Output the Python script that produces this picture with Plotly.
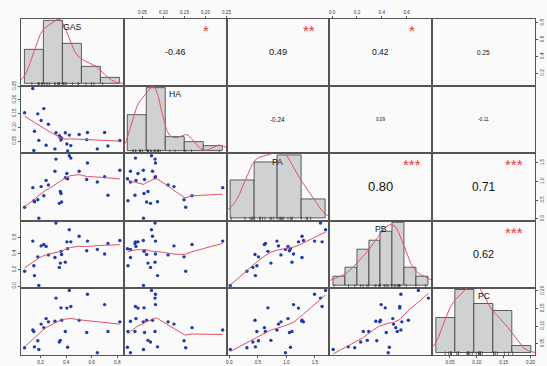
import numpy as np
import plotly.graph_objects as go

VAR_NAMES = ["GAS", "HA", "PA", "PB", "PC"]

GAS = [0.076, 0.140, 0.148, 0.153, 0.179, 0.187, 0.205, 0.226, 0.244, 0.262,
       0.313, 0.321, 0.347, 0.355, 0.360, 0.365, 0.394, 0.406, 0.412, 0.425,
       0.437, 0.502, 0.561, 0.567, 0.644, 0.701, 0.727, 0.820]
HA = [0.153, 0.241, 0.0156, 0.0859, 0.149, 0.0525, 0.125, 0.168, 0.0346, 0.111,
      0.0215, 0.080, 0.0692, 0.0632, 0.0537, 0.060, 0.080, 0.0394, 0.0144, 0.0716,
      0.0334, 0.074, 0.055, 0.081, 0.0215, 0.081, 0.0322, 0.052]
PA = [0.308, 0.834, 0.483, 0.457, 0.510, 0.018, 0.861, 0.615, 1.027, 0.904,
      1.273, 1.597, 0.413, 0.729, 0.676, 0.450, 1.097, 1.211, 1.071, 1.685,
      1.624, 1.273, 1.053, 1.492, 0.983, 1.124, 0.632, 1.299]
PB = [0.182, 0.554, 0.251, 0.129, 0.360, 0.008, 0.495, 0.513, 0.489, 0.384,
      0.352, 0.776, 0.230, 0.283, 0.428, 0.390, 0.295, 0.545, 0.461, 0.695,
      0.545, 0.614, 0.436, 0.554, 0.452, 0.395, 0.525, 0.562]
PC = [0.0379, 0.0888, 0.0842, 0.0406, 0.0582, 0.0332, 0.1055, 0.0953, 0.1212, 0.1119,
      0.1138, 0.1796, 0.0545, 0.0592, 0.1518, 0.1166, 0.0842, 0.151, 0.0397, 0.2015,
      0.1555, 0.1166, 0.0814, 0.1906, 0.024, 0.161, 0.0842, 0.1119]

# correlation panels (upper triangle), values and significance stars as printed
COR_PAIRS = [(0, 1), (0, 2), (0, 3), (0, 4), (1, 2), (1, 3), (1, 4), (2, 3), (2, 4), (3, 4)]
COR_TEXT = ["-0.46", "0.49", "0.42", "0.25", "-0.24", "0.09", "-0.11", "0.80", "0.71", "0.62"]
COR_STARS = ["*", "**", "*", "", "", "", "", "***", "***", "***"]

# histogram breaks for the diagonal
HIST_START = [0.0, 0.0, 0.0, 0.0, 0.0]
HIST_END = [1.0, 0.25, 2.0, 0.8, 0.25]
HIST_SIZE = [0.2, 0.05, 0.5, 0.1, 0.05]

# outer axis ticks
TICK_VALS = [[0.2, 0.4, 0.6, 0.8],
             [0.05, 0.10, 0.15, 0.20, 0.25],
             [0.0, 0.5, 1.0, 1.5],
             [0.0, 0.2, 0.4, 0.6],
             [0.05, 0.10, 0.15, 0.20]]
TICK_TEXT = [["0.2", "0.4", "0.6", "0.8"],
             ["0.05", "0.10", "0.15", "0.20", "0.25"],
             ["0.0", "0.5", "1.0", "1.5"],
             ["0.0", "0.2", "0.4", "0.6"],
             ["0.05", "0.10", "0.15", "0.20"]]

data = [np.array(v, float) for v in (GAS, HA, PA, PB, PC)]
NV = 5
W, H = 547, 366
L, R, T, B = 21, 540, 13, 356
cw = (R - L) / NV
rh = (B - T) / NV

FRAME = "#555555"
BG = "#fafafa"
PT = "#1f3ca8"
SMOOTH = "#DF536B"
STAR = "#E8363C"
FONT = "Liberation Sans, Arial, sans-serif"


def xdom(j):
    return [(L + j * cw) / W, (L + (j + 1) * cw) / W]


def ydom(i):
    return [1 - (T + (i + 1) * rh) / H, 1 - (T + i * rh) / H]


def pad_range(v):
    lo, hi = float(v.min()), float(v.max())
    d = hi - lo
    return [lo - 0.04 * d, hi + 0.04 * d]


def sfx(k):
    return "" if k == 1 else str(k)


def lowess(x, y, f=2 / 3, iters=3):
    o = np.argsort(x, kind="mergesort")
    x = x[o]
    y = y[o]
    n = len(x)
    ns = max(min(int(round(f * n)), n), 2)
    rob = np.ones(n)
    yest = np.zeros(n)
    for it in range(iters + 1):
        for i in range(n):
            d = np.abs(x - x[i])
            h = np.sort(d)[ns - 1]
            h = max(h, 1e-12)
            u = d / h
            w = np.where(u <= 0.999, (1 - np.clip(u, 0, 1) ** 3) ** 3, 0.0)
            w = np.where(u <= 0.001, 1.0, w) * rob
            sw = w.sum()
            xm = np.sum(w * x) / sw
            ym = np.sum(w * y) / sw
            var = np.sum(w * (x - xm) ** 2)
            if var > 1e-14 * (x.max() - x.min() + 1e-12) ** 2:
                b = np.sum(w * (x - xm) * (y - ym)) / var
            else:
                b = 0.0
            yest[i] = ym + b * (x[i] - xm)
        if it == iters:
            break
        res = y - yest
        s = np.median(np.abs(res))
        if s <= 0:
            break
        u = np.clip(res / (6 * s), -1, 1)
        rob = (1 - u ** 2) ** 2
    return x, yest


def kde(v):
    n = len(v)
    sd = v.std(ddof=1)
    q75, q25 = np.percentile(v, [75, 25])
    bw = 0.9 * min(sd, (q75 - q25) / 1.34) * n ** -0.2
    xs = np.linspace(v.min() - 3 * bw, v.max() + 3 * bw, 512)
    ys = np.exp(-0.5 * ((xs[:, None] - v[None, :]) / bw) ** 2).sum(1) / (n * bw * np.sqrt(2 * np.pi))
    return xs, ys


rngs = [pad_range(v) for v in data]
fig = go.Figure()
layout = {}
annotations = []

tickstyle = dict(ticks="outside", ticklen=2, tickwidth=0.6, tickcolor=FRAME,
                 showticklabels=True, tickfont=dict(size=4.6, color="#333333", family=FONT))

for i in range(NV):
    for j in range(NV):
        k = i * NV + j + 1
        xa = dict(domain=xdom(j), anchor="y" + sfx(k), showgrid=False, zeroline=False,
                  showline=True, mirror=True, linecolor=FRAME, linewidth=1,
                  ticks="", showticklabels=False, fixedrange=True)
        ya = dict(domain=ydom(i), anchor="x" + sfx(k), showgrid=False, zeroline=False,
                  showline=True, mirror=True, linecolor=FRAME, linewidth=1,
                  ticks="", showticklabels=False, fixedrange=True)
        if i == j:
            v = data[i]
            s0, s1, sz = HIST_START[i], HIST_END[i], HIST_SIZE[i]
            edges = np.arange(s0, s1 + sz / 2, sz)
            counts, _ = np.histogram(v, bins=edges)
            dens = counts / (len(v) * sz)
            M = dens.max()
            xa["range"] = [s0 - 0.04 * (s1 - s0), s1 + 0.04 * (s1 - s0)]
            ya["range"] = [-0.04 * M, 1.04 * M]
            fig.add_trace(go.Histogram(
                x=v, xbins=dict(start=s0, end=s1, size=sz), histnorm="probability density",
                marker=dict(color="#d0d1d3", line=dict(color="#3a3a3a", width=0.8)),
                xaxis="x" + sfx(k), yaxis="y" + sfx(k), hoverinfo="skip", showlegend=False))
            kx, ky = kde(v)
            fig.add_trace(go.Scatter(x=kx, y=ky, mode="lines", line=dict(color=SMOOTH, width=1),
                                     xaxis="x" + sfx(k), yaxis="y" + sfx(k),
                                     hoverinfo="skip", showlegend=False))
            ppu = rh / (1.08 * M)
            rug_y = np.full(len(v), -0.04 * M + 1.6 / ppu)
            fig.add_trace(go.Scatter(x=v, y=rug_y, mode="markers",
                                     marker=dict(symbol="line-ns-open", size=3.2, color="#333333",
                                                 line=dict(color="#333333", width=0.7)),
                                     xaxis="x" + sfx(k), yaxis="y" + sfx(k),
                                     hoverinfo="skip", showlegend=False, cliponaxis=False))
            annotations.append(dict(text=VAR_NAMES[i], x=0.5, y=0.833, yshift=3,
                                    xanchor="center", yanchor="middle",
                                    xref="x" + sfx(k) + " domain", yref="y" + sfx(k) + " domain",
                                    showarrow=False, font=dict(size=8.6, color="#111111", family=FONT)))
        else:
            xa["range"] = rngs[j]
            ya["range"] = rngs[i]
            if i > j:
                fig.add_trace(go.Scatter(x=data[j], y=data[i], mode="markers",
                                         marker=dict(color=PT, size=3.4),
                                         xaxis="x" + sfx(k), yaxis="y" + sfx(k),
                                         hoverinfo="skip", showlegend=False))
                lx, ly = lowess(data[j], data[i])
                fig.add_trace(go.Scatter(x=lx, y=ly, mode="lines",
                                         line=dict(color=SMOOTH, width=1),
                                         xaxis="x" + sfx(k), yaxis="y" + sfx(k),
                                         hoverinfo="skip", showlegend=False))
            else:
                # invisible carrier so the correlation panel exists
                fig.add_trace(go.Scatter(x=data[j], y=data[i], mode="markers",
                                         marker=dict(opacity=0, color=BG),
                                         xaxis="x" + sfx(k), yaxis="y" + sfx(k),
                                         hoverinfo="skip", showlegend=False))
            # outer tick axes
            if i == NV - 1 and j % 2 == 0:
                xa.update(tickstyle, side="bottom", tickvals=TICK_VALS[j], ticktext=TICK_TEXT[j], tickangle=0)
            if i == 0 and j % 2 == 1:
                xa.update(tickstyle, side="top", tickvals=TICK_VALS[j], ticktext=TICK_TEXT[j], tickangle=0)
            if j == 0 and i % 2 == 1:
                ya.update(tickstyle, side="left", tickvals=TICK_VALS[i], ticktext=TICK_TEXT[i], tickangle=-90)
            if j == NV - 1 and i % 2 == 0:
                ya.update(tickstyle, side="right", tickvals=TICK_VALS[i], ticktext=TICK_TEXT[i], tickangle=-90)
        layout["xaxis" + sfx(k)] = xa
        layout["yaxis" + sfx(k)] = ya

# overlay axes on the last diagonal panel for the outer PC scale
kd = NV * NV
ko = kd + 1
layout["xaxis" + str(ko)] = dict(overlaying="x" + str(kd), anchor="y" + str(kd), range=rngs[4],
                                 showgrid=False, zeroline=False, showline=False, fixedrange=True,
                                 side="bottom", tickvals=TICK_VALS[4], ticktext=TICK_TEXT[4],
                                 tickangle=0, **tickstyle)
layout["yaxis" + str(ko)] = dict(overlaying="y" + str(kd), anchor="x" + str(kd), range=rngs[4],
                                 showgrid=False, zeroline=False, showline=False, fixedrange=True,
                                 side="right", tickvals=TICK_VALS[4], ticktext=TICK_TEXT[4],
                                 tickangle=-90, **tickstyle)
fig.add_trace(go.Scatter(x=data[4], y=data[4], mode="markers", marker=dict(opacity=0, color=BG),
                         xaxis="x" + str(ko), yaxis="y" + str(ko), hoverinfo="skip", showlegend=False))

# correlation texts
for (a, b), txt, st in zip(COR_PAIRS, COR_TEXT, COR_STARS):
    k = a * NV + b + 1
    r = abs(float(txt))
    annotations.append(dict(text=txt, x=0.5, y=0.5, xanchor="center", yanchor="middle",
                            xref="x" + sfx(k) + " domain",
                            yref="y" + sfx(k) + " domain", showarrow=False,
                            font=dict(size=11.8 * (r + 0.3), color="#111111", family=FONT)))
    if st:
        annotations.append(dict(text=st, x=0.8, y=0.8, xanchor="center", yanchor="middle",
                                xref="x" + sfx(k) + " domain",
                                yref="y" + sfx(k) + " domain", showarrow=False, yshift=2,
                                font=dict(size=15, color=STAR, family=FONT)))

fig.update_layout(width=W, height=H, margin=dict(l=0, r=0, t=0, b=0),
                  paper_bgcolor=BG, plot_bgcolor=BG, bargap=0, showlegend=False,
                  annotations=annotations, font=dict(family=FONT), **layout)
fig.write_html("out.html", config={"displayModeBar": False},
               post_script="document.body.style.margin='0px';document.body.style.overflow='hidden';")
